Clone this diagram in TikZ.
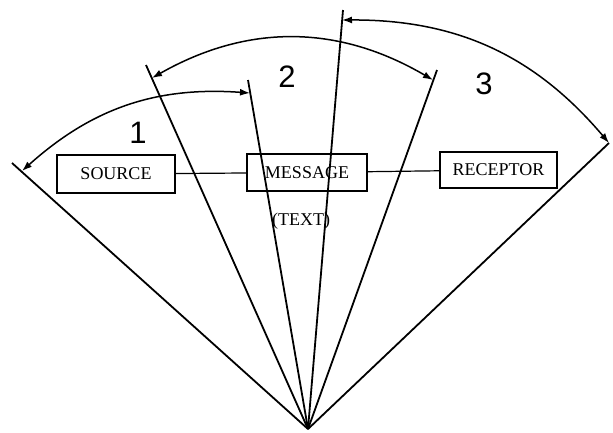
\documentclass[tikz,border=0pt]{standalone}
\usepackage{fontspec}
\setmainfont{Liberation Serif}
\newfontfamily\numfont{Liberation Sans}
\usetikzlibrary{arrows.meta}
\begin{document}
\begin{tikzpicture}[x=1pt,y=1pt,
  ray/.style={line width=1.8pt},
  sector/.style={line width=1.5pt,{Latex[length=10pt,width=7pt]}-{Latex[length=10pt,width=7pt]}},
  stagebox/.style={draw,line width=1.4pt,inner sep=0pt,font=\fontsize{18}{20}\selectfont},
  link/.style={line width=1.2pt},
  numlabel/.style={inner sep=0pt,font=\numfont\fontsize{31}{34}\selectfont},
  plain/.style={inner sep=0pt,font=\fontsize{18}{20}\selectfont}]
\useasboundingbox (0,0) rectangle (613,-432);
% apex and ray ends
\coordinate (apex) at (308,-429);
\coordinate (Atop) at (12,-163);
\coordinate (Btop) at (146,-65);
\coordinate (Ctop) at (248,-80);
\coordinate (Dtop) at (343,-10);
\coordinate (Etop) at (437,-70);
\coordinate (Ftop) at (609,-143);
% arc end points on rays
\coordinate (Atip) at (22,-171);
\coordinate (Btip) at (152,-78);
\coordinate (Ctip) at (250,-93);
\coordinate (Dtip) at (342,-20);
\coordinate (Etip) at (433,-80);
% rays
\draw[ray] (apex) -- (Atop);
\draw[ray] (apex) -- (Btop);
\draw[ray] (apex) -- (Ctop);
\draw[ray] (apex) -- (Dtop);
\draw[ray] (apex) -- (Etop);
\draw[ray] (apex) -- (Ftop);
% arcs
\draw[sector] (Atip) to[bend left=23] (Ctip);
\draw[sector] (Btip) to[bend left=30] (Etip);
\draw[sector] (Dtip) to[bend left=25] (Ftop);
% labels
\node[numlabel] (n1) at (138,-133) {1};
\node[numlabel] (n2) at (287,-77) {2};
\node[numlabel] (n3) at (484,-84) {3};
% boxes
\node[stagebox,minimum width=118pt,minimum height=38pt] (src) at (116,-174) {SOURCE};
\node[stagebox,minimum width=120pt,minimum height=37pt] (msg) at (307,-172.5) {MESSAGE};
\node[stagebox,minimum width=117pt,minimum height=36pt] (rec) at (498.5,-170) {RECEPTOR};
\node[plain] (txt) at (301,-221) {(TEXT)};
\draw[link] (src) -- (msg);
\draw[link] (msg) -- (rec);
\end{tikzpicture}
\end{document}
